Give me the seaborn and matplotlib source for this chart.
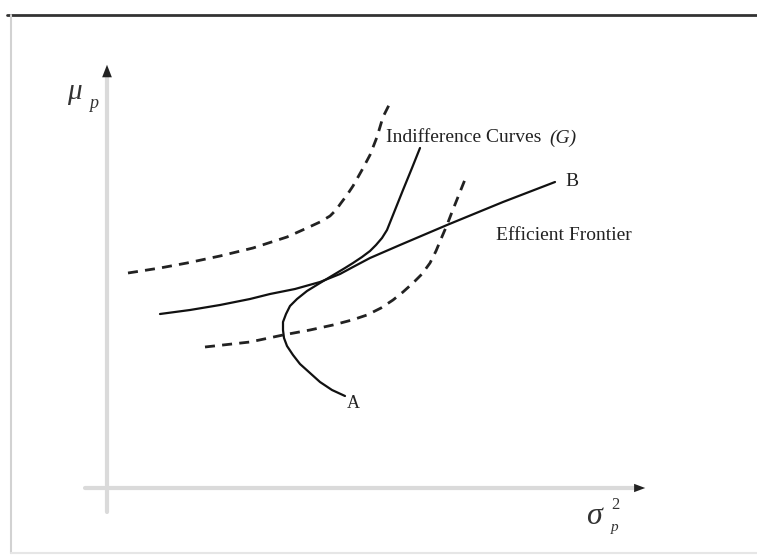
import matplotlib
matplotlib.use("Agg")
import matplotlib.pyplot as plt
import seaborn as sns
import pandas as pd

# curves (pixel units, y grows downwards)
upper_ic_x = [128, 160, 187, 220, 253, 287, 307, 320, 330, 336, 341, 347, 353, 362, 370, 377, 383, 390]
upper_ic_y = [273, 268, 263, 256, 248, 237, 228, 222, 216, 210, 203, 195, 186, 170, 155, 137, 117, 103]

frontier_x = [160, 190, 220, 250, 270, 295, 320, 340, 353, 370, 400, 447, 503, 555]
frontier_y = [314, 310, 305, 299, 294, 289, 282, 274, 267, 258, 245, 225, 202, 182]

g_curve_x = [420, 412, 403, 395, 387, 382, 376, 370, 362, 353, 345, 335, 320, 307, 297, 290, 286, 283,
             283, 284, 287, 293, 300, 310, 320, 332, 345]
g_curve_y = [148, 168, 190, 210, 230, 238, 245, 251, 257, 263, 268, 274, 283, 291, 299, 306, 314, 322,
             330, 338, 346, 355, 364, 373, 382, 390, 396]

lower_ic_x = [205, 250, 283, 310, 333, 352, 367, 381, 393, 403, 413, 422, 430, 436, 441, 447, 452, 458, 466]
lower_ic_y = [347, 342, 335, 330, 325, 320, 315, 308, 300, 292, 283, 274, 263, 251, 239, 225, 212, 197, 177]

sns.set_style("white")
plt.rcParams['font.family'] = ['Liberation Serif', 'DejaVu Serif']

fig = plt.figure(figsize=(7.57, 5.55), dpi=100)
ax = fig.add_axes([0, 0, 1, 1])
ax.set_xlim(0, 757)
ax.set_ylim(555, 0)
ax.axis('off')

# frame of the scan
ax.plot([7, 757], [15, 15], color='#333333', lw=2)
ax.plot([11, 11], [15, 553], color='#d2d2d2', lw=1.5)
ax.plot([11, 757], [553, 553], color='#e6e6e6', lw=1.5)

# axes with arrow heads
ax.plot([107, 107], [76, 512], color='#dadada', lw=3)
ax.plot([85, 636], [488, 488], color='#dadada', lw=3)
ax.annotate('', xy=(107, 62), xytext=(107, 80),
            arrowprops=dict(arrowstyle='-|>,head_length=0.9,head_width=0.35', color='#222222', lw=0))
ax.annotate('', xy=(648, 488), xytext=(633, 488),
            arrowprops=dict(arrowstyle='-|>,head_length=0.8,head_width=0.3', color='#222222', lw=0))

df = pd.DataFrame({'x': upper_ic_x, 'y': upper_ic_y})
sns.lineplot(data=df, x='x', y='y', sort=False, estimator=None, ax=ax,
             color='#222222', lw=2, linestyle=(0, (3.6, 2.6)))
df = pd.DataFrame({'x': lower_ic_x, 'y': lower_ic_y})
sns.lineplot(data=df, x='x', y='y', sort=False, estimator=None, ax=ax,
             color='#222222', lw=2, linestyle=(0, (3.6, 2.6)))
df = pd.DataFrame({'x': frontier_x, 'y': frontier_y})
sns.lineplot(data=df, x='x', y='y', sort=False, estimator=None, ax=ax,
             color='#111111', lw=1.6)
df = pd.DataFrame({'x': g_curve_x, 'y': g_curve_y})
sns.lineplot(data=df, x='x', y='y', sort=False, estimator=None, ax=ax,
             color='#111111', lw=1.6)

# labels
ax.text(67, 92, 'μ', fontsize=21, style='italic', ha='left', va='center', color='#333333')
ax.text(89, 103, 'p', fontsize=13, style='italic', ha='left', va='center', color='#333333')
ax.text(586, 517, 'σ', fontsize=23, style='italic', ha='left', va='center', color='#333333')
ax.text(611, 505, '2', fontsize=12, ha='left', va='center', color='#333333')
ax.text(611, 528, 'p', fontsize=11, style='italic', ha='left', va='center', color='#333333')

ax.text(386, 138, 'Indifference Curves', fontsize=14, ha='left', va='center', color='#222222')
ax.text(549, 138, '(G)', fontsize=14, style='italic', ha='left', va='center', color='#222222')
ax.text(496, 236, 'Efficient Frontier', fontsize=14, ha='left', va='center', color='#222222')
ax.text(565, 182, 'B', fontsize=14, ha='left', va='center', color='#222222')
ax.text(347, 395, 'A', fontsize=13, ha='left', va='top', color='#222222')

plt.savefig('out.png', dpi=100)
